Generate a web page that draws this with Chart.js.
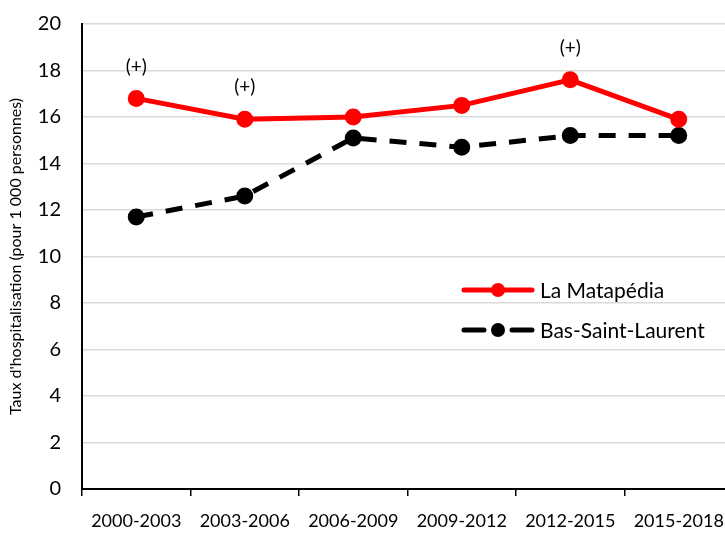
<!DOCTYPE html>
<html>
<head>
<meta charset="utf-8">
<script src="https://cdn.jsdelivr.net/npm/chart.js@4"></script>
<style>
  html, body { margin: 0; padding: 0; background: #fff; overflow: hidden; }
  #myChart { width: 745px; height: 542px; }
</style>
</head>
<body>
<canvas id="myChart" width="745" height="542"></canvas>
<script>
// données
const periodes = ['2000-2003', '2003-2006', '2006-2009', '2009-2012', '2012-2015', '2015-2018'];
const matapedia = [16.8, 15.9, 16.0, 16.5, 17.6, 15.9];
const basSaintLaurent = [11.7, 12.6, 15.1, 14.7, 15.2, 15.2];
const signif = ['(+)', '(+)', '', '', '(+)', ''];
const nomsSeries = ['La Matapédia', 'Bas-Saint-Laurent'];

const police = 'Lato, "Open Sans", sans-serif';

// annotations (+) au-dessus des points
const plusPlugin = {
  id: 'plus',
  afterDatasetsDraw(chart) {
    const ctx = chart.ctx;
    const meta = chart.getDatasetMeta(0);
    ctx.save();
    ctx.font = '19px ' + police;
    ctx.fillStyle = '#000';
    ctx.textAlign = 'center';
    ctx.textBaseline = 'middle';
    meta.data.forEach((pt, i) => {
      if (signif[i]) ctx.fillText(signif[i], pt.x, pt.y - 32);
    });
    ctx.restore();
  }
};

// légende dans le graphique
const legendePlugin = {
  id: 'legende',
  afterDraw(chart) {
    const ctx = chart.ctx;
    const x0 = 464, x1 = 532, xm = 498;
    const lignes = [290, 330];
    ctx.save();
    chart.data.datasets.forEach((ds, i) => {
      const y = lignes[i];
      ctx.strokeStyle = ds.borderColor;
      ctx.lineWidth = ds.borderWidth;
      ctx.lineCap = 'round';
      ctx.beginPath();
      if (i == 0) {
        ctx.moveTo(x0, y); ctx.lineTo(x1, y);
      } else {
        ctx.moveTo(x0, y); ctx.lineTo(x0 + 20, y);
        ctx.moveTo(x1 - 20, y); ctx.lineTo(x1, y);
      }
      ctx.stroke();
      ctx.fillStyle = ds.pointBackgroundColor;
      ctx.beginPath();
      ctx.arc(xm, y, 7, 0, Math.PI * 2);
      ctx.fill();
      ctx.fillStyle = '#000';
      ctx.font = '21px ' + police;
      ctx.textBaseline = 'middle';
      ctx.fillText(nomsSeries[i], 540, y + 1);
    });
    ctx.restore();
  }
};

let ctx = document.getElementById('myChart').getContext('2d');
let chart = new Chart(ctx, {
  type: 'line',
  data: {
    labels: periodes,
    datasets: [{
      label: nomsSeries[0],
      data: matapedia,
      borderColor: '#ff0000',
      backgroundColor: '#ff0000',
      pointBackgroundColor: '#ff0000',
      pointBorderColor: '#ff0000',
      borderWidth: 5,
      pointRadius: 6,
      tension: 0
    }, {
      label: nomsSeries[1],
      data: basSaintLaurent,
      borderColor: '#000000',
      backgroundColor: '#000000',
      pointBackgroundColor: '#000000',
      pointBorderColor: '#000000',
      borderWidth: 5,
      borderDash: [17, 13],
      pointRadius: 6,
      tension: 0
    }]
  },
  options: {
    responsive: false,
    animation: false,
    layout: { padding: { top: 24, right: 12, left: 0, bottom: 0 } },
    plugins: {
      legend: { display: false },
      tooltip: { enabled: false }
    },
    scales: {
      x: {
        offset: true,
        grid: {
          offset: true,
          drawOnChartArea: false,
          color: '#000',
          tickLength: 7,
          lineWidth: 1.5
        },
        border: { color: '#000', width: 2 },
        ticks: {
          color: '#000',
          padding: 14,
          maxRotation: 0,
          font: { family: police, size: 18 }
        },
        afterFit(scale) {
          scale.height = 53;
          scale.paddingLeft = 0;
          scale.paddingRight = 0;
        }
      },
      y: {
        min: 0,
        max: 20,
        ticks: {
          stepSize: 2,
          color: '#000',
          padding: 21,
          font: { family: police, size: 20 }
        },
        grid: { color: '#d9d9d9', lineWidth: 1.5, drawTicks: false },
        border: { color: '#000', width: 2 },
        title: {
          display: true,
          text: "Taux d'hospitalisation (pour 1 000 personnes)",
          color: '#000',
          font: { family: police, size: 16 },
          padding: { top: 6, bottom: 0 }
        },
        afterFit(scale) {
          scale.width = 82;
          scale.paddingTop = 0;
          scale.paddingBottom = 0;
        }
      }
    }
  },
  plugins: [plusPlugin, legendePlugin]
});
</script>
</body>
</html>
